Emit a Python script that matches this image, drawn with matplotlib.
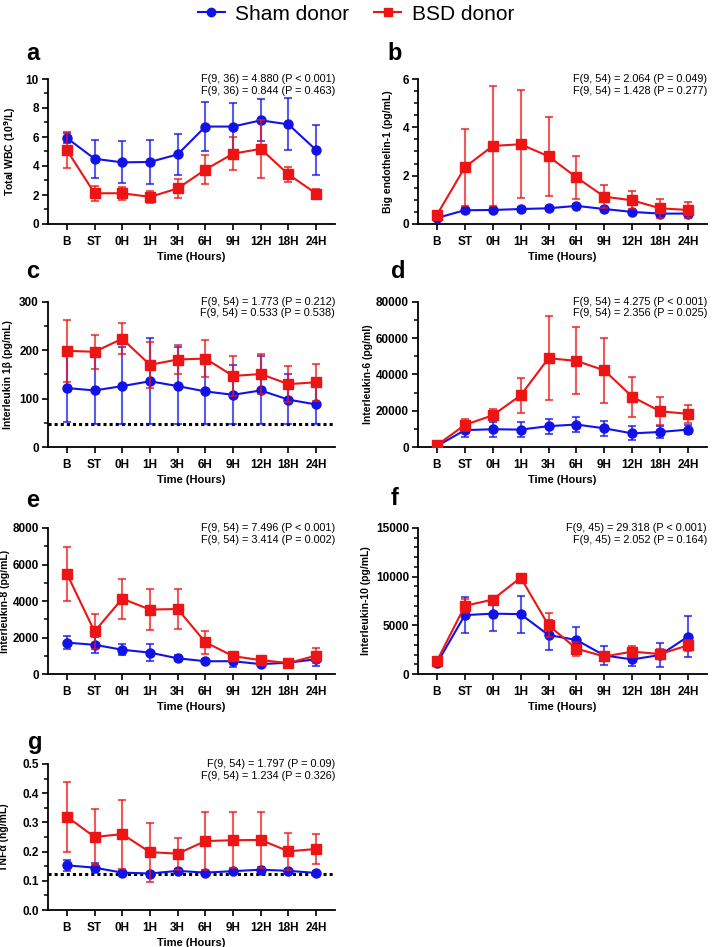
import matplotlib
matplotlib.use("Agg")
import matplotlib.pyplot as plt
from matplotlib.lines import Line2D
from matplotlib.ticker import MultipleLocator
import numpy as np

plt.rcParams['font.family'] = ['Liberation Sans', 'DejaVu Sans']

categories = ["B", "ST", "0H", "1H", "3H", "6H", "9H", "12H", "18H", "24H"]

# Panel a: Total WBC
wbc_sham = [5.93, 4.5, 4.25, 4.28, 4.8, 6.72, 6.72, 7.15, 6.87, 5.1]
wbc_sham_sd = [0.35, 1.3, 1.45, 1.52, 1.4, 1.7, 1.62, 1.45, 1.8, 1.75]
wbc_bsd = [5.1, 2.12, 2.12, 1.87, 2.45, 3.75, 4.85, 5.18, 3.42, 2.1]
wbc_bsd_sd = [1.25, 0.5, 0.45, 0.42, 0.63, 1.0, 1.15, 2.0, 0.52, 0.3]

# Panel b: Big endothelin-1
et_sham = [0.25, 0.57, 0.58, 0.62, 0.65, 0.75, 0.62, 0.5, 0.43, 0.43]
et_sham_sd = [0.05, 0.1, 0.08, 0.08, 0.08, 0.08, 0.1, 0.08, 0.12, 0.12]
et_bsd = [0.38, 2.35, 3.23, 3.3, 2.8, 1.93, 1.13, 0.98, 0.65, 0.58]
et_bsd_sd = [0.1, 1.6, 2.48, 2.24, 1.63, 0.88, 0.47, 0.38, 0.4, 0.32]

# Panel c: Interleukin 1 beta
il1_sham = [122, 117, 126, 136, 126, 115, 108, 117, 98, 88]
il1_sham_sd = [70, 73, 81, 89, 80, 75, 61, 71, 52, 45]
il1_bsd = [199, 197, 224, 170, 181, 183, 147, 151, 130, 134]
il1_bsd_sd = [64, 35, 32, 47, 31, 38, 41, 42, 37, 38]
il1_lod = 47

# Panel d: Interleukin-6
il6_sham = [500, 9300, 9800, 9600, 11500, 12400, 10300, 7500, 8300, 9600]
il6_sham_sd = [300, 3900, 4100, 4300, 4200, 4400, 4300, 3900, 3300, 2600]
il6_bsd = [1000, 12200, 17500, 28500, 49000, 47500, 42300, 27700, 19700, 18300]
il6_bsd_sd = [400, 3300, 3300, 9500, 23000, 18500, 18000, 11100, 7700, 5100]

# Panel e: Interleukin-8
il8_sham = [1720, 1600, 1330, 1170, 860, 700, 700, 540, 620, 810]
il8_sham_sd = [340, 440, 290, 450, 170, 120, 300, 80, 120, 390]
il8_bsd = [5500, 2330, 4130, 3530, 3560, 1740, 980, 760, 600, 1010]
il8_bsd_sd = [1480, 970, 1090, 1140, 1080, 640, 230, 100, 100, 390]

# Panel f: Interleukin-10
il10_sham = [1100, 6050, 6200, 6150, 4000, 3500, 1900, 1500, 1950, 3850]
il10_sham_sd = [200, 1820, 1800, 1900, 1500, 1300, 1000, 700, 1250, 2150]
il10_bsd = [1350, 7000, 7650, 9900, 5000, 2600, 1800, 2300, 2050, 2950]
il10_bsd_sd = [200, 700, 320, 330, 1220, 700, 400, 580, 550, 550]

# Panel g: TNF alpha
tnf_sham = [0.153, 0.145, 0.128, 0.125, 0.134, 0.128, 0.133, 0.138, 0.134, 0.127]
tnf_sham_sd = [0.019, 0.015, 0.006, 0.006, 0.008, 0.006, 0.007, 0.01, 0.008, 0.005]
tnf_bsd = [0.32, 0.25, 0.26, 0.198, 0.193, 0.236, 0.239, 0.24, 0.201, 0.209]
tnf_bsd_sd = [0.12, 0.097, 0.118, 0.101, 0.055, 0.098, 0.096, 0.097, 0.063, 0.05]
tnf_lod = 0.122

stats_a = ["F(9, 36) = 4.880 (P < 0.001)", "F(9, 36) = 0.844 (P = 0.463)"]
stats_b = ["F(9, 54) = 2.064 (P = 0.049)", "F(9, 54) = 1.428 (P = 0.277)"]
stats_c = ["F(9, 54) = 1.773 (P = 0.212)", "F(9, 54) = 0.533 (P = 0.538)"]
stats_d = ["F(9, 54) = 4.275 (P < 0.001)", "F(9, 54) = 2.356 (P = 0.025)"]
stats_e = ["F(9, 54) = 7.496 (P < 0.001)", "F(9, 54) = 3.414 (P = 0.002)"]
stats_f = ["F(9, 45) = 29.318 (P < 0.001)", "F(9, 45) = 2.052 (P = 0.164)"]
stats_g = ["F(9, 54) = 1.797 (P = 0.09)", "F(9, 54) = 1.234 (P = 0.326)"]

BLUE = "#1212E8"
RED = "#EC1414"

W, H = 712, 947
fig = plt.figure(figsize=(W / 100, H / 100), dpi=100)


def add_ax(x0, x1, top, bottom):
    return fig.add_axes([x0 / W, 1 - bottom / H, (x1 - x0) / W, (bottom - top) / H])


def panel(ax, ylabel, ylim, major, minor, sham, sham_sd, bsd, bsd_sd,
          stats, label_x, lod=None, clip_sham_lower=False):
    x = np.arange(len(categories))
    sham = np.array(sham, dtype=float)
    sham_sd = np.array(sham_sd, dtype=float)
    bsd = np.array(bsd, dtype=float)
    bsd_sd = np.array(bsd_sd, dtype=float)
    if clip_sham_lower and lod is not None:
        lo = sham - np.maximum(sham - sham_sd, lod)
    else:
        lo = sham_sd
    if lod is not None:
        ax.axhline(lod, color="black", ls=(0, (1, 1)), lw=2.2, zorder=1)
    for m, elo, ehi, col, mk, z in [(sham, lo, sham_sd, BLUE, "o", 3),
                                   (bsd, bsd_sd, bsd_sd, RED, "s", 4)]:
        ax.errorbar(x, m, yerr=[elo, ehi], fmt="none", ecolor=col, elinewidth=1.5,
                    capsize=3, capthick=1.5, alpha=0.7, zorder=z)
        ax.plot(x, m, color=col, lw=1.5, marker=mk, markersize=6.5,
                markeredgecolor=col, zorder=z + 0.5)
    ax.set_xlim(-0.68, 9.68)
    ax.set_ylim(*ylim)
    ax.yaxis.set_major_locator(MultipleLocator(major))
    ax.yaxis.set_minor_locator(MultipleLocator(minor))
    ax.set_xticks(x)
    ax.set_xticklabels(categories, fontweight="bold", fontsize=8.5)
    for lbl in ax.get_yticklabels():
        lbl.set_fontweight("bold")
        lbl.set_fontsize(8.5)
    ax.tick_params(axis="both", which="major", length=4.5, width=1.2, direction="out", pad=2)
    ax.tick_params(axis="y", which="minor", length=3, width=1.1)
    ax.tick_params(axis="x", pad=4)
    for s in ["top", "right"]:
        ax.spines[s].set_visible(False)
    for s in ["left", "bottom"]:
        ax.spines[s].set_linewidth(1.3)
    ax.set_ylabel(ylabel, fontweight="bold", fontsize=7.5)
    ax.yaxis.set_label_coords(label_x, 0.5)
    ax.set_xlabel("Time (Hours)", fontweight="bold", fontsize=8)
    ax.xaxis.labelpad = 3
    ax.text(1.0, 1.0, stats[0], transform=ax.transAxes, ha="right", va="center", fontsize=7.8)
    ax.text(1.0, 1.0 - 11.5 / 145, stats[1], transform=ax.transAxes, ha="right", va="center", fontsize=7.8)


LX0, LX1 = 48, 335
RX0, RX1 = 418, 707
rows = [(79, 224), (302, 447), (528, 674), (764, 910)]

axa = add_ax(LX0, LX1, *rows[0])
panel(axa, "Total WBC (10$^{\\mathbf{9}}$/L)", (0, 10), 2, 1, wbc_sham, wbc_sham_sd,
      wbc_bsd, wbc_bsd_sd, stats_a, -0.105)
axb = add_ax(RX0, RX1, *rows[0])
panel(axb, "Big endothelin-1 (pg/mL)", (0, 6), 2, 0.5, et_sham, et_sham_sd,
      et_bsd, et_bsd_sd, stats_b, -0.087)
axc = add_ax(LX0, LX1, *rows[1])
panel(axc, "Interleukin 1β (pg/mL)", (0, 300), 100, 50, il1_sham, il1_sham_sd,
      il1_bsd, il1_bsd_sd, stats_c, -0.122, lod=il1_lod, clip_sham_lower=True)
axd = add_ax(RX0, RX1, *rows[1])
panel(axd, "Interleukin-6 (pg/ml)", (0, 80000), 20000, 10000, il6_sham, il6_sham_sd,
      il6_bsd, il6_bsd_sd, stats_d, -0.156)
axe = add_ax(LX0, LX1, *rows[2])
panel(axe, "Interleukin-8 (pg/mL)", (0, 8000), 2000, 1000, il8_sham, il8_sham_sd,
      il8_bsd, il8_bsd_sd, stats_e, -0.132)
axf = add_ax(RX0, RX1, *rows[2])
panel(axf, "Interleukin-10 (pg/mL)", (0, 15000), 5000, 1000, il10_sham, il10_sham_sd,
      il10_bsd, il10_bsd_sd, stats_f, -0.163)
axg = add_ax(LX0, LX1, *rows[3])
panel(axg, "TNFα (ng/mL)", (0, 0.5), 0.1, 0.05, tnf_sham, tnf_sham_sd,
      tnf_bsd, tnf_bsd_sd, stats_g, -0.136, lod=tnf_lod)

# panel letters (pixel positions)
letters = [("a", 33, 53), ("b", 395, 53), ("c", 33, 272), ("d", 398, 272),
           ("e", 33, 500), ("f", 395, 498), ("g", 35, 742)]
for t, px, py in letters:
    fig.text(px / W, 1 - py / H, t, fontsize=17, fontweight="bold", ha="center", va="center")

handles = [Line2D([], [], color=BLUE, marker="o", markersize=6, lw=1.5),
           Line2D([], [], color=RED, marker="s", markersize=6, lw=1.5)]
fig.legend(handles, ["Sham donor", "BSD donor"], loc="center", bbox_to_anchor=(0.5, 1 - 14 / H),
           ncol=2, frameon=False, fontsize=15, handlelength=1.3, handletextpad=0.5,
           columnspacing=1.2)

fig.savefig("out.png", dpi=100)
